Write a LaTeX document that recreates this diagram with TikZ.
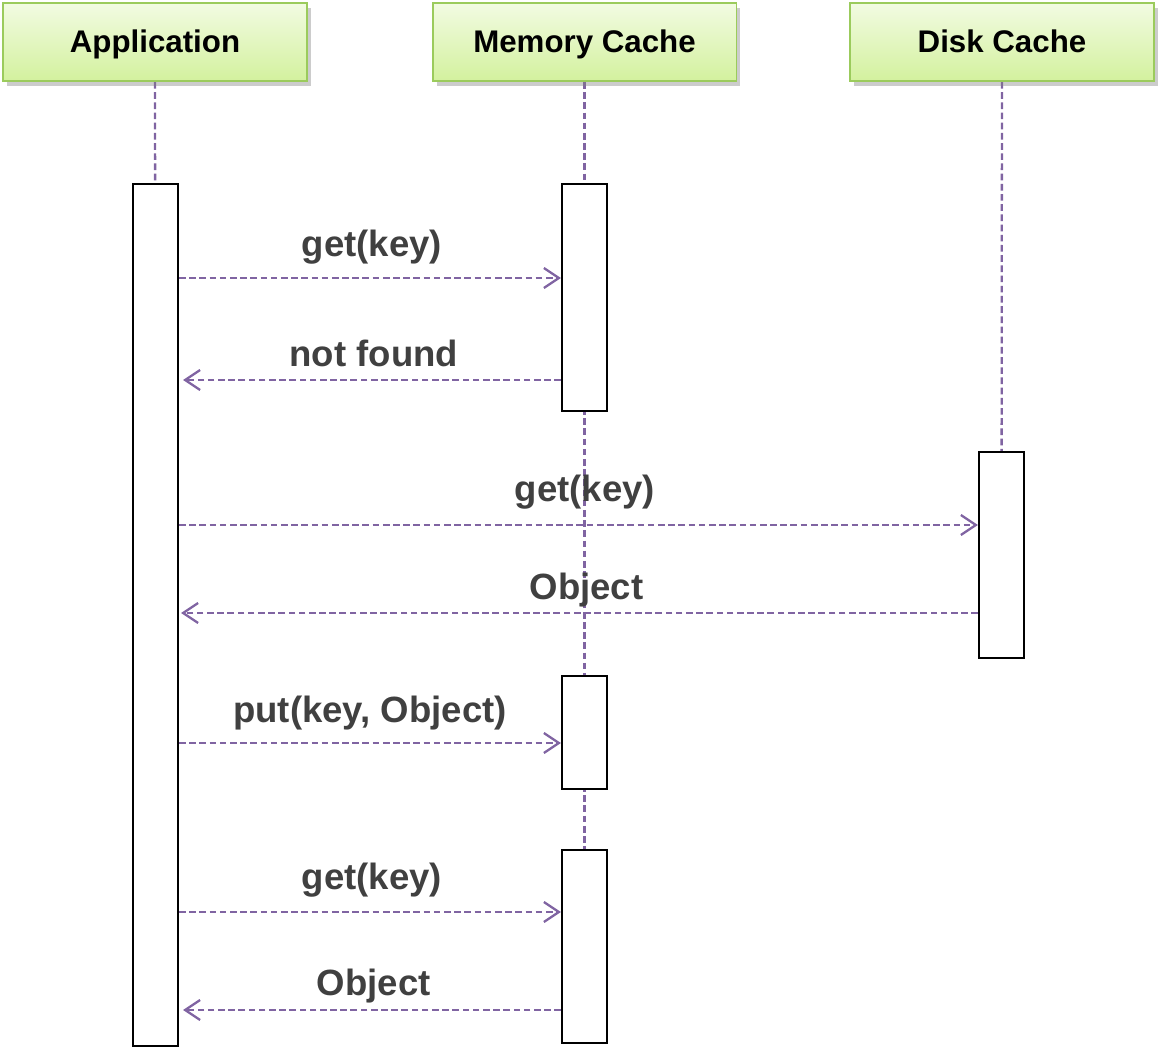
\documentclass[tikz,border=0pt]{standalone}
\usepackage{fontspec}
\setmainfont{Liberation Sans}
\usetikzlibrary{arrows.meta,shadows,backgrounds}

\definecolor{linepurple}{HTML}{8064A2}
\definecolor{msgtext}{HTML}{404040}
\definecolor{headborder}{HTML}{9BCB5C}
\definecolor{headtop}{HTML}{F2FBE2}
\definecolor{headbottom}{HTML}{D3F19E}

\begin{document}
\begin{tikzpicture}[x=0.02cm, y=-0.02cm,
	head/.style={draw=headborder, line width=1.1pt, top color=headtop, bottom color=headbottom, minimum width=6.08cm, minimum height=1.56cm, text height=13pt, text depth=0.5pt, font=\fontsize{17.8}{20}\selectfont\bfseries, drop shadow={opacity=0.4, shadow xshift=0.08cm, shadow yshift=-0.1cm}},
	bar/.style={draw=black, line width=1.2pt, fill=white, minimum width=0.9cm, inner sep=0pt},
	lifeline/.style={draw=linepurple, line width=1.3pt, dash pattern=on 3.8pt off 2pt},
	call/.style={lifeline, -{Straight Barb[length=0.3cm, width=0.4cm, line width=1.3pt]}},
	reply/.style={call, shorten >=0.08cm},
	msg/.style={font=\fontsize{20.8}{24}\selectfont\bfseries, text=msgtext, inner sep=0pt, text depth=0pt}]
			\useasboundingbox (0,0) rectangle (1159,1050);

			\node[head] at (155,42) (apphead) {Application};
			\node[head] at (584.5,42) (memhead) {Memory Cache};
			\node[head] at (1002,42) (diskhead) {Disk Cache};

			\node[bar, minimum height=17.24cm] at (155.5,615) (app) {};
			\node[bar, minimum height=4.54cm] at (584.5,297.5) (memget) {};
			\node[bar, minimum height=4.12cm] at (1001.5,555) (disk) {};
			\node[bar, minimum height=2.26cm] at (584.5,732.5) (memput) {};
			\node[bar, minimum height=3.86cm] at (584.5,946.5) (memhit) {};

			\begin{scope}[on background layer]
			\draw[lifeline] (apphead) -- (app);
			\draw[lifeline] (memhead) -- (memhit);
			\draw[lifeline] (diskhead) -- (disk);
			\end{scope}

			\path
			(app.east |- 0,278) edge[call] node[msg, pos=0.505, above=0.4cm] {get(key)} (memget.west |- 0,278)
			(memget.west |- 0,380) edge[reply] node[msg, pos=0.49, above=0.24cm] {not found} (app.east |- 0,380)
			(app.east |- 0,525) edge[call] node[msg, pos=0.508, above=0.44cm] {get(key)} (disk.west |- 0,525)
			(disk.west |- 0,613) edge[call, shorten >=0.04cm] node[msg, pos=0.49, above=0.24cm] {Object} (app.east |- 0,613)
			(app.east |- 0,743) edge[call] node[msg, above=0.38cm] {put(key, Object)} (memput.west |- 0,743)
			(app.east |- 0,912) edge[call] node[msg, pos=0.505, above=0.42cm] {get(key)} (memhit.west |- 0,912)
			(memhit.west |- 0,1010) edge[reply] node[msg, pos=0.49, above=0.27cm] {Object} (app.east |- 0,1010);
		\end{tikzpicture}
\end{document}
